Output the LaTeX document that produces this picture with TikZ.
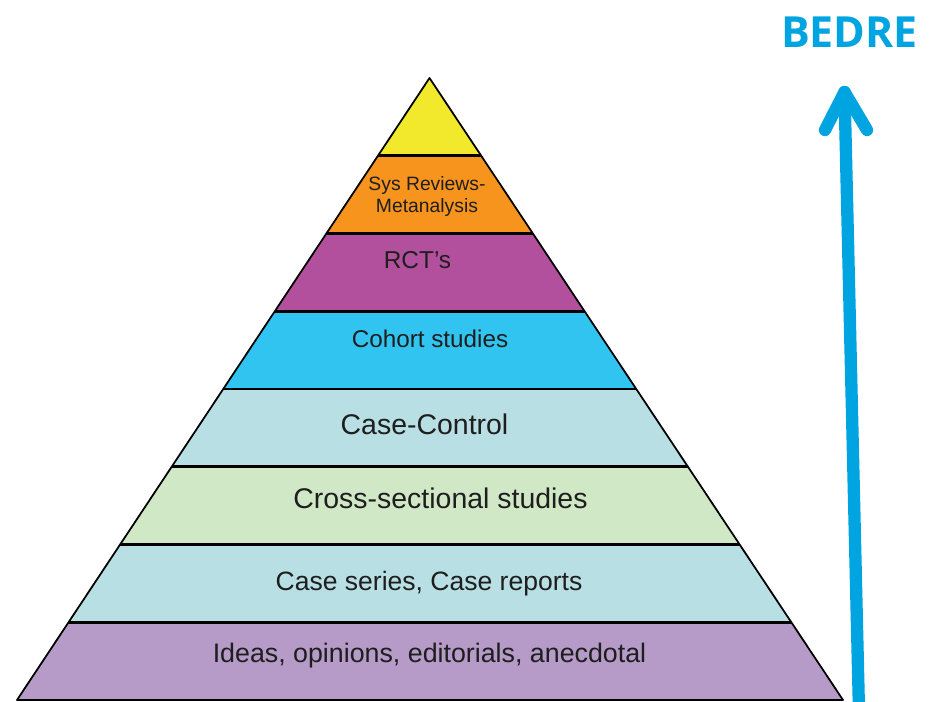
\documentclass[tikz,border=0pt]{standalone}
\usepackage{fontspec}
\setmainfont{Liberation Sans}
\newfontfamily\bedrefont{Open Sans}
\definecolor{lvtop}{RGB}{242,233,45}
\definecolor{lvsys}{RGB}{247,148,30}
\definecolor{lvrct}{RGB}{179,80,157}
\definecolor{lvcohort}{RGB}{50,196,240}
\definecolor{lvcase}{RGB}{184,223,228}
\definecolor{lvcross}{RGB}{208,232,198}
\definecolor{lvseries}{RGB}{184,223,228}
\definecolor{lvideas}{RGB}{182,154,200}
\definecolor{leveldark}{RGB}{30,30,30}
\definecolor{bedreblue}{RGB}{0,164,224}
\begin{document}
\begin{tikzpicture}
[x=0.02cm,y=-0.02cm,
  bandline/.style={line width=1.7pt,black},
  pyramidline/.style={line width=1pt,black,line join=round},
  leveltext/.style={anchor=base,inner sep=0pt,text=leveldark},
  bedrearrow/.style={line width=7pt,draw=bedreblue,line cap=round,line join=round}]
\useasboundingbox (0,0) rectangle (932,702);
%% pyramid corners
\coordinate (apex) at (429.5,78);
\coordinate (baseleft) at (17,700);
\coordinate (baseright) at (843,700);
%% coloured levels and dividers
\begin{scope}
  \clip (apex) -- (baseleft) -- (baseright) -- cycle;
  \foreach \colour [count=\i from 0] in {lvtop,lvsys,lvrct,lvcohort,lvcase,lvcross,lvseries,lvideas} {
    \fill[\colour] (0,78+\i*77.75) rectangle (932,78+\i*77.75+77.75);
  }
  \foreach \i in {1,...,7} {
    \draw[bandline] (0,78+\i*77.75) -- (932,78+\i*77.75);
  }
\end{scope}
\draw[pyramidline] (apex) -- (baseleft) -- (baseright) -- cycle;
%% level labels
\foreach \nodename/\x/\y/\size/\txt in {
  ideas/429.5/662/15.25/{Ideas, opinions, editorials, anecdotal},
  series/429/590/15.1/{Case series, Case reports},
  cross/440.5/508/16.2/{Cross-sectional studies},
  casecontrol/424.5/434/16.2/{Case-Control},
  cohort/430/347/13.8/{Cohort studies},
  rct/417.5/269/13.9/{RCT's}} {
  \node (\nodename) at (\x,\y) [leveltext,font=\fontsize{\size pt}{\size pt}\selectfont] {\txt};
}
\node (sysreviews) at (427,196.5) [leveltext,anchor=center,align=center,
  font=\fontsize{11pt}{12.5pt}\selectfont] {Sys Reviews-\\Metanalysis};
%% arrow and heading
\node (bedre) at (849.5,47.5) [anchor=base,inner sep=0pt,text=bedreblue,
  font=\bedrefont\bfseries\fontsize{24.4pt}{24.4pt}\selectfont] {BEDRE};
\coordinate (arrowfoot) at (859,712);
\coordinate (arrowtip) at (844.5,92);
\coordinate (barbleft) at (825,130);
\coordinate (barbright) at (867,130);
\draw[bedrearrow] (arrowfoot) -- (arrowtip);
\draw[bedrearrow] (barbleft) -- (arrowtip) -- (barbright);
\end{tikzpicture}
\end{document}
